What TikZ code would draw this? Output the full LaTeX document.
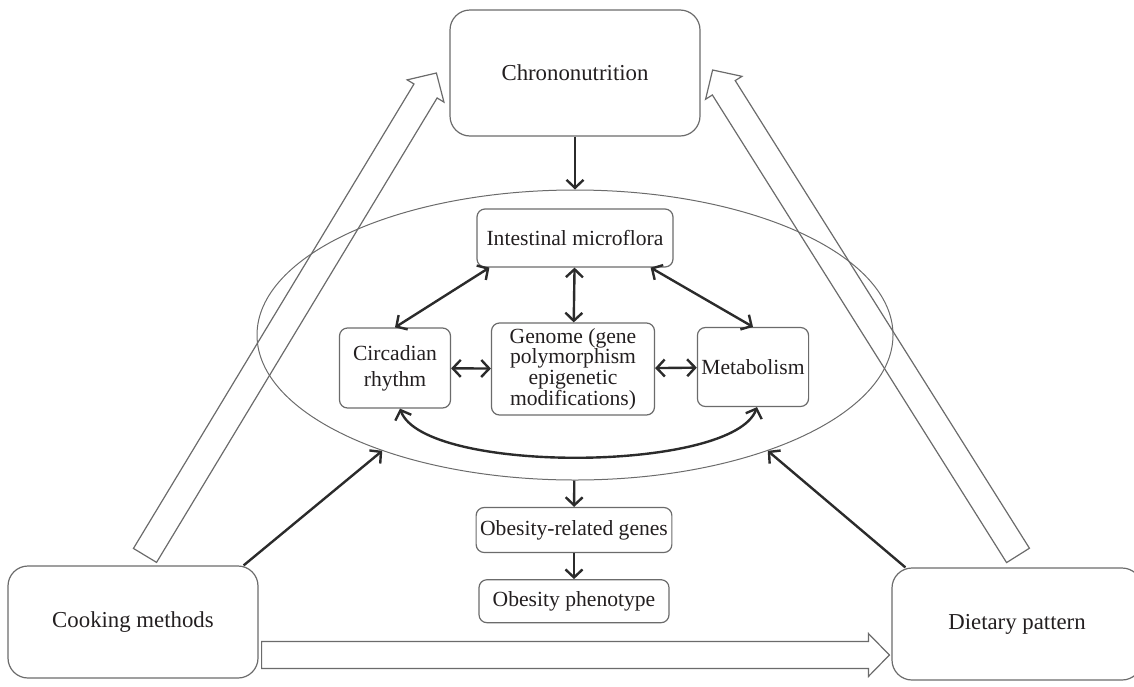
\documentclass[tikz,border=0pt]{standalone}
\usepackage{fontspec}
\setmainfont{Liberation Serif}
\usepackage{tikz}
\usetikzlibrary{arrows.meta,positioning,calc,shapes.geometric}
\definecolor{FdLine}{HTML}{6B6B6B}
\definecolor{FdDark}{HTML}{2B2B2B}
\definecolor{FdText}{HTML}{231F20}
\tikzset{
  fdbox/.style={
    draw=FdLine,
    line width=0.6pt,
    rounded corners=4pt,
    align=center,
    inner sep=2pt,
    text=FdText,
    font=\fontsize{10.8}{13}\selectfont
  },
  fdbig/.style={
    fdbox,
    rounded corners=10pt,
    minimum width=125pt
  },
  fdarrow/.style={-{Straight Barb[length=4pt,width=8.5pt]},line width=1.2pt,draw=FdDark},
  fdboth/.style={{Straight Barb[length=4pt,width=8.5pt]}-{Straight Barb[length=4pt,width=8.5pt]},line width=1.2pt,draw=FdDark},
  fdhollow/.style={draw=FdLine,line width=0.6pt,line join=miter}
}
% open block arrow from #1 to #2
\newcommand{\hollowarrow}[2]{%
  \path ($(#2)!10.5pt!(#1)$) coordinate (hbase);
  \draw[fdhollow] ($(#1)!6.75pt!90:(#2)$) -- ($(hbase)!6.75pt!90:(#2)$)
    -- ($(hbase)!10.75pt!90:(#2)$) -- (#2) -- ($(hbase)!10.75pt!-90:(#2)$)
    -- ($(hbase)!6.75pt!-90:(#2)$) -- ($(#1)!6.75pt!-90:(#2)$) -- cycle;}

\begin{document}
\begin{tikzpicture}[x=0.5pt,y=-0.5pt,node distance=6pt]
    \useasboundingbox (0,0) rectangle (1134,686);
    % outer triangle
    \node[fdbig,minimum height=63pt,font=\fontsize{11.4}{13}\selectfont] (chrono) at (575,73) {Chrononutrition};
    \node[fdbig,minimum height=56pt,font=\fontsize{11.4}{13}\selectfont] (cook) at (133,622) {Cooking methods};
    \node[fdbig,minimum height=56pt,font=\fontsize{11.4}{13}\selectfont] (diet) at (1017,624) {Dietary pattern};
    % inner loop
    \node[draw=FdLine,line width=0.5pt,ellipse,minimum width=318pt,minimum height=145pt,inner sep=0pt] (core) at (575,335) {};
    \node[fdbox,minimum width=98pt,minimum height=29pt] (micro) at (575,238) {Intestinal microflora};
    \node[fdbox,minimum width=55.5pt,minimum height=40pt] (circ) at (395,368) {Circadian\\rhythm};
    \node[fdbox,minimum width=81.5pt,minimum height=46pt,font=\fontsize{10.8}{10.3}\selectfont] (genome) at (573,369) {Genome (gene\\polymorphism\\epigenetic\\modifications)};
    \node[fdbox,minimum width=54.5pt,minimum height=39.5pt] (metab) at (753,367) {Metabolism};
    \node[fdbox,minimum width=95pt,minimum height=22.5pt] (genes) at (574,530) {Obesity-related genes};
    \node[fdbox,minimum width=95pt,minimum height=21.5pt,below=13pt of genes] (pheno) {Obesity phenotype};
    \draw[fdarrow] (chrono) -- (core);
    \draw[fdboth] ($(micro.south west)+(13,0)$) -- (circ.north);
    \draw[fdboth] (micro) -- (genome);
    \draw[fdboth] ($(micro.south east)+(-23,0)$) -- (metab.north);
    \draw[fdboth] (circ) -- (genome);
    \draw[fdboth] (genome) -- (metab);
    \draw[fdboth] ($(circ.south)+(5,0)$) to[out=-70,in=-110,looseness=0.5] ($(metab.south)+(4,0)$);
    \draw[fdarrow] (core) -- (genes);
    \draw[fdarrow] (genes) -- (pheno);
    \draw[fdarrow] ($(cook.north east)+(-15,0)$) -- (core.211);
    \draw[fdarrow] ($(diet.north west)+(14,0)$) -- (core.329);
    % block arrows
    \coordinate (cookout) at ($(cook.north)+(12,-10)$);
    \coordinate (cookin) at ($(chrono.west)+(-13,0)$);
    \coordinate (dietout) at ($(diet.north)+(1,-12)$);
    \coordinate (dietin) at ($(chrono.east)+(12,-3)$);
    \coordinate (cookright) at ($(cook.east)+(3,33)$);
    \coordinate (dietleft) at ($(diet.west)+(-2,31)$);
    \hollowarrow{cookout}{cookin}
    \hollowarrow{dietout}{dietin}
    \hollowarrow{cookright}{dietleft}
  \end{tikzpicture}
\end{document}
